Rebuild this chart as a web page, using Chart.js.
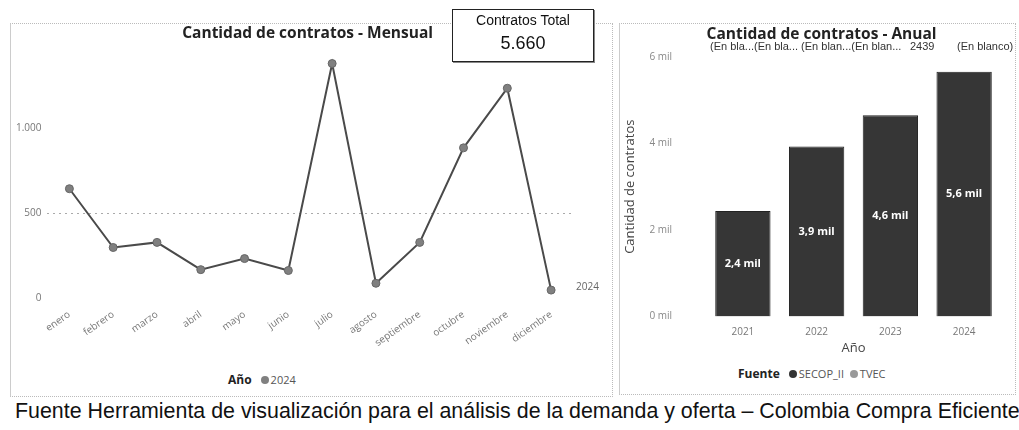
<!DOCTYPE html>
<html>
<head>
<meta charset="utf-8">
<script src="https://cdn.jsdelivr.net/npm/chart.js@4"></script>
<style>
  body { margin: 0; background: #fff; width: 1019px; height: 430px; position: relative; overflow: hidden; }
  .panel { position: absolute; border: 1px dotted #bbb; box-sizing: border-box; }
  #leftPanel { left: 10px; top: 23px; width: 603px; height: 374px; border-left: 1px solid #ccc; }
  #rightPanel { left: 619px; top: 23px; width: 397px; height: 372px; border-left: 1px solid #ccc; }
  .wrap { position: absolute; }
  #card { position: absolute; left: 452px; top: 9px; width: 142px; height: 53px; border: 1px solid #222;
          box-shadow: 1px 1px 0 #888; background: #fff; box-sizing: border-box;
          font-family: "Liberation Sans", Arial, sans-serif; text-align: center; color: #111; }
  #card .t { font-size: 14px; margin-top: 2px; }
  #card .v { font-size: 18px; margin-top: 5px; }
  .legend { position: absolute; font-family: "Open Sans", sans-serif; font-size: 11px; color: #555; white-space: nowrap; }
  .legend b { font-weight: 700; color: #222; font-size: 12px; margin-right: 6px; }
  .dot { display: inline-block; width: 8px; height: 8px; border-radius: 50%; margin: 0 2px 0 3px; }
  .blank { position: absolute; top: 40px; font-family: "Liberation Sans", Arial, sans-serif;
           font-size: 11px; color: #333; white-space: pre; }
  #caption { position: absolute; left: 15px; top: 399px; font-family: "Liberation Sans", Arial, sans-serif;
             font-size: 21.4px; color: #111; white-space: nowrap; }
</style>
</head>
<body>
<div class="panel" id="leftPanel"></div>
<div class="panel" id="rightPanel"></div>

<div class="wrap" style="left:10px; top:24px; width:602px; height:327px;"><canvas id="monthChart"></canvas></div>
<div class="wrap" style="left:618px; top:17px; width:397px; height:343px;"><canvas id="yearChart"></canvas></div>

<div id="card"><div class="t">Contratos Total</div><div class="v">5.660</div></div>

<div class="blank" style="left:710px;">(En bla...(En bla... (En blan...(En blan...</div>
<div class="blank" style="left:910px;">2439</div>
<div class="blank" style="left:957px;">(En blanco)</div>

<div class="legend" style="left:228px; top:371px;"><b>Año</b><span class="dot" style="background:#808080"></span>2024</div>
<div class="legend" style="left:738px; top:365px;"><b>Fuente</b><span class="dot" style="background:#333"></span>SECOP_II <span class="dot" style="background:#999"></span>TVEC</div>

<div id="caption">Fuente Herramienta de visualización para el análisis de la demanda y oferta – Colombia Compra Eficiente</div>

<script>
// monthly data (2024)
const months = ['enero', 'febrero', 'marzo', 'abril', 'mayo', 'junio', 'julio', 'agosto', 'septiembre', 'octubre', 'noviembre', 'diciembre'];
const monthlyContracts = [645, 300, 330, 170, 235, 165, 1380, 90, 330, 885, 1235, 50];
const monthTicks = [0, 500, 1000];

// yearly data
const years = ['2021', '2022', '2023', '2024'];
const yearlyContracts = [2439, 3930, 4650, 5660];
const yearTicks = [0, 2000, 4000, 6000];

const titleFont = { family: 'Open Sans', size: 15.5, weight: 'bold' };
const tickFont = { family: 'Open Sans', size: 10 };

// "2024" label next to the last point
const seriesLabel = {
    id: 'seriesLabel',
    afterDatasetsDraw(chart) {
        const meta = chart.getDatasetMeta(0);
        const last = meta.data[meta.data.length - 1];
        const ctx = chart.ctx;
        ctx.save();
        ctx.font = '10px "Open Sans"';
        ctx.fillStyle = '#666';
        ctx.textBaseline = 'middle';
        ctx.fillText(chart.data.datasets[0].label, last.x + 25, last.y - 3);
        ctx.restore();
    }
};

// values written inside the bars
const barLabels = {
    id: 'barLabels',
    afterDatasetsDraw(chart) {
        const meta = chart.getDatasetMeta(0);
        const ctx = chart.ctx;
        ctx.save();
        ctx.font = 'bold 11px "Open Sans"';
        ctx.fillStyle = '#fff';
        ctx.textAlign = 'center';
        ctx.textBaseline = 'middle';
        meta.data.forEach((bar, i) => {
            const v = chart.data.datasets[0].data[i];
            const txt = (Math.floor(v / 100) / 10).toFixed(1).replace('.', ',') + ' mil';
            ctx.fillText(txt, bar.x, (bar.y + bar.base) / 2);
        });
        ctx.restore();
    }
};

new Chart(document.getElementById('monthChart'), {
    type: 'line',
    data: {
        labels: months,
        datasets: [{
            label: '2024',
            data: monthlyContracts,
            borderColor: '#4a4a4a',
            borderWidth: 2,
            pointRadius: 4,
            pointBackgroundColor: '#808080',
            pointBorderColor: '#666',
            pointBorderWidth: 1,
            tension: 0
        }]
    },
    options: {
        responsive: true,
        maintainAspectRatio: false,
        animation: false,
        layout: { padding: { left: 0, right: 39, top: 0, bottom: 0 } },
        plugins: {
            legend: { display: false },
            tooltip: { enabled: false },
            title: {
                display: true,
                // leading spaces nudge the centred title to the right
                text: '        Cantidad de contratos - Mensual',
                font: titleFont,
                color: '#222',
                padding: { top: 0, bottom: 9 }
            }
        },
        scales: {
            x: {
                offset: true,
                grid: { display: false },
                border: { display: false },
                ticks: { color: '#777', font: tickFont, minRotation: 35, maxRotation: 35, padding: 2 }
            },
            y: {
                min: 0,
                max: 1450,
                afterBuildTicks: axis => { axis.ticks = monthTicks.map(v => ({ value: v })); },
                border: { display: false, dash: [2, 4] },
                grid: {
                    color: ctx => ctx.tick && ctx.tick.value === 500 ? '#aaa' : 'rgba(0,0,0,0)',
                    drawTicks: false
                },
                ticks: {
                    color: '#777',
                    font: tickFont,
                    padding: 6,
                    callback: v => v.toLocaleString('de-DE')
                }
            }
        }
    },
    plugins: [seriesLabel]
});

new Chart(document.getElementById('yearChart'), {
    type: 'bar',
    data: {
        labels: years,
        datasets: [{
            label: 'SECOP_II',
            data: yearlyContracts,
            backgroundColor: '#363636',
            borderColor: '#222',
            borderWidth: 1,
            barPercentage: 0.75,
            categoryPercentage: 1
        }]
    },
    options: {
        responsive: true,
        maintainAspectRatio: false,
        animation: false,
        layout: { padding: { left: 0, right: 14, top: 0, bottom: 0 } },
        plugins: {
            legend: { display: false },
            tooltip: { enabled: false },
            title: {
                display: true,
                text: '      Cantidad de contratos - Anual',
                font: titleFont,
                color: '#222',
                padding: { top: 0, bottom: 13 }
            }
        },
        scales: {
            x: {
                grid: { display: false },
                border: { display: false },
                ticks: { color: '#777', font: tickFont, padding: 2 },
                title: { display: true, text: 'Año', color: '#444', font: { family: 'Open Sans', size: 13 }, padding: { top: 0 } }
            },
            y: {
                min: 0,
                max: 6000,
                afterBuildTicks: axis => { axis.ticks = yearTicks.map(v => ({ value: v })); },
                afterFit: axis => { axis.width = 88; },
                grid: { display: false, drawTicks: false },
                border: { display: false },
                ticks: { color: '#888', font: tickFont, padding: 34, callback: v => (v / 1000) + ' mil' },
                title: { display: true, text: 'Cantidad de contratos', color: '#444', font: { family: 'Open Sans', size: 13 }, padding: 4 }
            }
        }
    },
    plugins: [barLabels]
});
</script>
</body>
</html>
